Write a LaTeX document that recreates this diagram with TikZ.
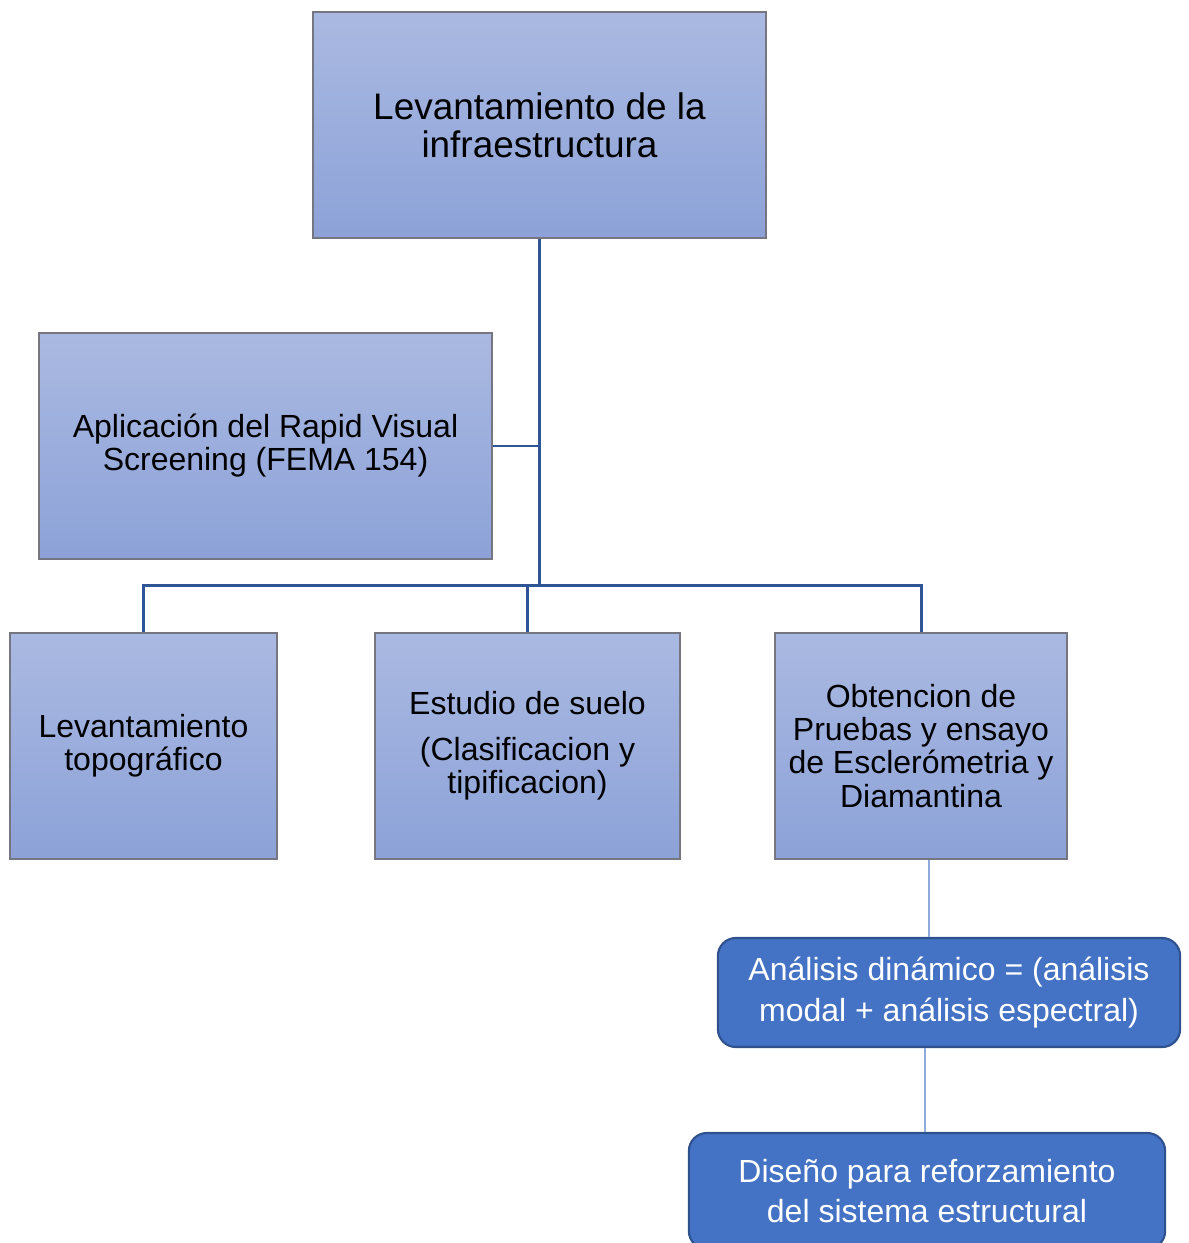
\documentclass[tikz,border=0pt]{standalone}
\usepackage{fontspec}
\setmainfont{Liberation Sans}
\usepackage{tikz}
\usetikzlibrary{calc}
\definecolor{boxtop}{RGB}{170,185,225}
\definecolor{boxbot}{RGB}{140,162,216}
\definecolor{boxline}{RGB}{118,118,128}
\definecolor{treeline}{RGB}{47,85,151}
\definecolor{accent}{RGB}{68,114,196}
\definecolor{accentline}{RGB}{47,82,143}
\definecolor{thinline}{RGB}{143,170,220}
\tikzset{
  lightbox/.style={draw=boxline,line width=0.4pt,top color=boxtop,bottom color=boxbot,
    align=center,inner sep=0pt,font=\fontsize{9.1}{9.4}\selectfont},
  bluebox/.style={draw=accentline,line width=0.6pt,fill=accent,rounded corners=0.18cm,
    align=center,inner sep=0pt,text=white,font=\fontsize{9.1}{11.4}\selectfont},
  tree/.style={draw=treeline,line width=0.85pt},
  thin/.style={draw=thinline,line width=0.45pt},
}

\begin{document}
\begin{tikzpicture}[x=0.01cm,y=-0.01cm]
\useasboundingbox (0,0) rectangle (1189,1243);

\node[lightbox,minimum width=4.53cm,minimum height=2.26cm,font=\fontsize{10.5}{10.8}\selectfont]
  (t0) at (539.5,125) {Levantamiento de la\\infraestructura};
\node[lightbox,minimum width=4.53cm,minimum height=2.26cm]
  (a1) at (265.5,446) {Aplicación del Rapid Visual\\Screening (FEMA 154)};
\node[lightbox,minimum width=2.67cm,minimum height=2.26cm]
  (b1) at (143.5,746) {Levantamiento\\topográfico};
\node[lightbox,minimum width=3.05cm,minimum height=2.26cm]
  (b2) at (527.5,746) {Estudio de suelo\\[3.7pt](Clasificacion y\\tipificacion)};
\node[lightbox,minimum width=2.92cm,minimum height=2.26cm]
  (b3) at (921,746) {Obtencion de\\Pruebas y ensayo\\de Esclerómetria y\\Diamantina};
\node[bluebox,minimum width=4.62cm,minimum height=1.09cm]
  (c1) at (949,992.5) {Análisis dinámico = (análisis\\modal + análisis espectral)};
\node[bluebox,minimum width=4.76cm,minimum height=1.16cm]
  (c2) at (927,1191) {Diseño para reforzamiento\\del sistema estructural};

\coordinate (j) at ($(t0.south)+(0,347)$);

\path[tree]
	(t0.south) -- (j)
	(a1.east) -- (a1.east -| t0.south)
	(b1.north) |- (j) -| (b3.north)
	(b2.north) -- (b2.north |- j);
\path[thin]
	([xshift=0.08cm]b3.south) -- ([xshift=0.08cm]b3.south |- c1.north)
	([xshift=-0.02cm]c2.north) -- ([xshift=-0.02cm]c2.north |- c1.south);

\end{tikzpicture}
\end{document}
